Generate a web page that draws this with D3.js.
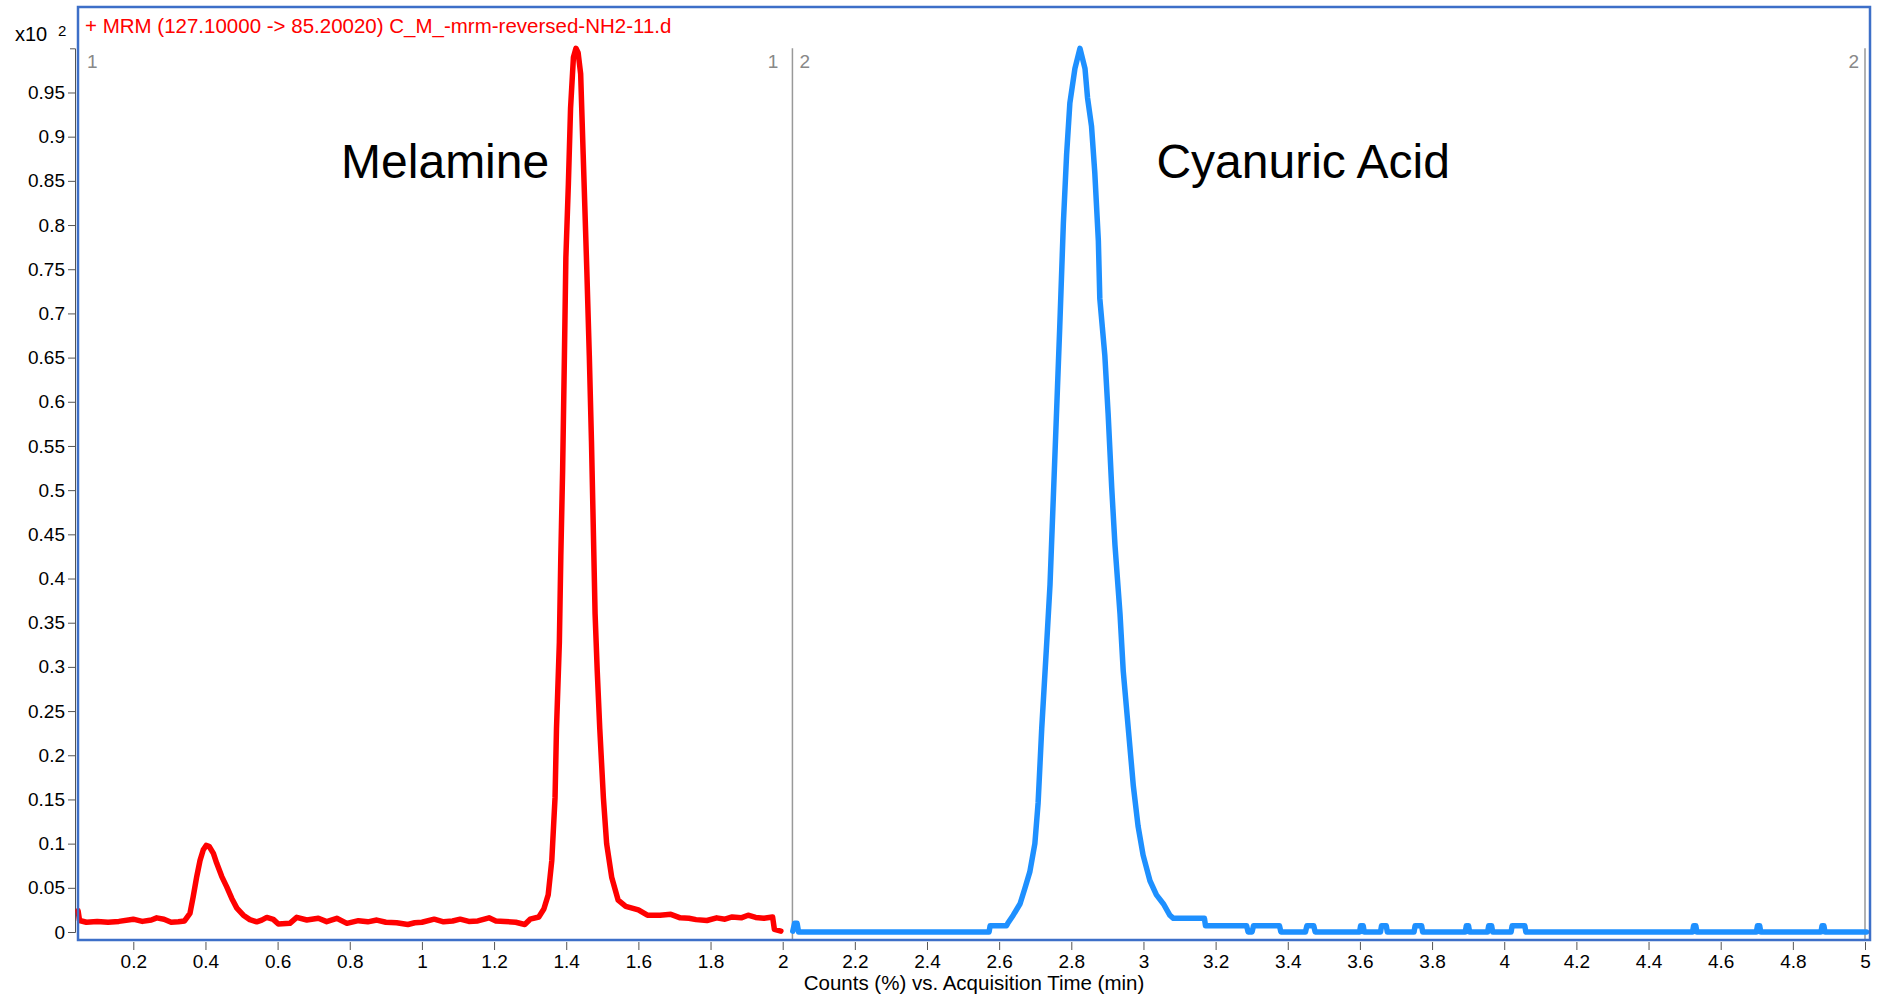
<!DOCTYPE html>
<html>
<head>
<meta charset="utf-8">
<script src="https://cdnjs.cloudflare.com/ajax/libs/d3/7.8.5/d3.min.js"></script>
<style>
  body { margin: 0; background: #fff; }
  svg { display: block; font-family: "Liberation Sans", Arial, sans-serif; }
  .axis text { fill: #000; font-size: 19px; }
  .axis path, .axis line { stroke: #555; }
</style>
</head>
<body>
<div id="chart"></div>
<script>
// Melamine trace (time min, counts x10^2)
var melamine = [
  [0.047,0.024],[0.051,0.013],[0.07,0.011],[0.1,0.012],[0.13,0.011],[0.16,0.012],[0.2,0.0145],
  [0.225,0.012],[0.25,0.0135],[0.265,0.016],[0.285,0.0145],[0.305,0.011],[0.325,0.0115],[0.342,0.0125],
  [0.357,0.021],[0.366,0.040],[0.376,0.063],[0.385,0.081],[0.394,0.093],[0.402,0.098],[0.41,0.097],
  [0.422,0.089],[0.431,0.078],[0.445,0.063],[0.459,0.051],[0.473,0.038],[0.487,0.027],[0.505,0.019],
  [0.523,0.014],[0.542,0.0115],[0.556,0.0135],[0.57,0.0165],[0.588,0.0143],[0.602,0.009],[0.634,0.0098],
  [0.653,0.0166],[0.681,0.0136],[0.713,0.0155],[0.736,0.0117],[0.764,0.0155],[0.792,0.0098],[0.824,0.0128],
  [0.85,0.0115],[0.875,0.0135],[0.9,0.011],[0.93,0.0105],[0.961,0.0085],[0.98,0.0105],[1.0,0.011],
  [1.034,0.0145],[1.06,0.0115],[1.085,0.0125],[1.106,0.0145],[1.13,0.012],[1.155,0.0125],[1.186,0.016],
  [1.205,0.0125],[1.23,0.012],[1.26,0.011],[1.285,0.0085],[1.3,0.0145],[1.324,0.017],[1.338,0.026],
  [1.35,0.042],[1.36,0.081],[1.369,0.152],[1.373,0.23],[1.381,0.328],[1.385,0.425],[1.39,0.522],
  [1.395,0.652],[1.399,0.763],[1.406,0.847],[1.412,0.932],[1.42,0.99],[1.427,1.0],[1.433,0.995],
  [1.44,0.971],[1.447,0.88],[1.457,0.75],[1.464,0.652],[1.47,0.555],[1.475,0.458],[1.48,0.36],
  [1.486,0.295],[1.493,0.23],[1.503,0.152],[1.512,0.1],[1.526,0.062],[1.544,0.036],[1.565,0.029],
  [1.6,0.025],[1.625,0.019],[1.66,0.019],[1.69,0.02],[1.716,0.016],[1.74,0.0155],[1.76,0.014],
  [1.79,0.013],[1.817,0.016],[1.84,0.0145],[1.86,0.017],[1.885,0.016],[1.904,0.019],[1.925,0.0165],
  [1.948,0.0155],[1.972,0.017],[1.977,0.003],[1.995,0.001]
];

// Cyanuric acid trace
var cyanuric = [
  [2.028,0.001],[2.033,0.0098],[2.04,0.0098],[2.044,0],[2.572,0],[2.575,0.007],[2.62,0.007],
  [2.624,0.0098],[2.639,0.019],[2.658,0.032],[2.671,0.049],[2.685,0.068],[2.699,0.1],[2.708,0.146],
  [2.718,0.23],[2.732,0.328],[2.741,0.393],[2.75,0.49],[2.759,0.587],[2.768,0.685],[2.778,0.802],
  [2.787,0.88],[2.796,0.938],[2.81,0.977],[2.824,1.0],[2.838,0.977],[2.845,0.944],[2.856,0.912],
  [2.865,0.86],[2.875,0.782],[2.879,0.717],[2.893,0.652],[2.902,0.587],[2.912,0.503],[2.921,0.438],
  [2.935,0.36],[2.944,0.295],[2.958,0.23],[2.972,0.165],[2.985,0.12],[2.999,0.087],[3.018,0.058],
  [3.036,0.042],[3.055,0.032],[3.073,0.019],[3.083,0.0155],[3.169,0.0155],[3.172,0.007],[3.286,0.007],
  [3.29,0],[3.301,0],[3.305,0.007],[3.377,0.007],[3.381,0],
  [3.449,0],[3.453,0.007],[3.472,0.007],[3.476,0],
  [3.599,0],[3.602,0.007],[3.609,0.007],[3.612,0],
  [3.657,0],[3.66,0.007],[3.673,0.007],[3.676,0],
  [3.75,0],[3.753,0.007],[3.771,0.007],[3.774,0],
  [3.892,0],[3.895,0.007],[3.901,0.007],[3.904,0],
  [3.954,0],[3.957,0.007],[3.965,0.007],[3.968,0],
  [4.019,0],[4.022,0.007],[4.057,0.007],[4.06,0],
  [4.522,0],[4.525,0.007],[4.531,0.007],[4.534,0],
  [4.699,0],[4.702,0.007],[4.708,0.007],[4.711,0],
  [4.878,0],[4.881,0.007],[4.886,0.007],[4.889,0],
  [5.004,0]
];

var xTicks = [0.2,0.4,0.6,0.8,1,1.2,1.4,1.6,1.8,2,2.2,2.4,2.6,2.8,3,3.2,3.4,3.6,3.8,4,4.2,4.4,4.6,4.8,5];
var yTicks = [0,0.05,0.1,0.15,0.2,0.25,0.3,0.35,0.4,0.45,0.5,0.55,0.6,0.65,0.7,0.75,0.8,0.85,0.9,0.95];

// compound names, placed at (time, counts)
var peakNames = ["Melamine", "Cyanuric Acid"];
var peakNamePos = [[0.776, 0.853], [3.036, 0.853]];

// segment boundaries (min)
var segments = [
  {id: "1", from: 0.047, to: 2.027},
  {id: "2", from: 2.027, to: 5.0}
];

var chartTitle = "+ MRM (127.10000 -> 85.20020) C_M_-mrm-reversed-NH2-11.d";
var xTitle = "Counts (%) vs. Acquisition Time (min)";

var width = 1883,
    height = 995,
    frame = {left: 78, right: 1870, top: 7, bottom: 940};

var svg = d3.select("#chart")
  .append("svg")
  .attr("width", width)
  .attr("height", height);

var x = d3.scaleLinear().domain([0.2, 5]).range([133.3, 1865]);
var y = d3.scaleLinear().domain([0, 1]).range([932, 48.3]);

// y axis
var yAxis = d3.axisLeft(y)
  .tickValues(yTicks)
  .tickSize(7)
  .tickSizeOuter(5)
  .tickPadding(3)
  .tickFormat(d => String(d));

svg.append("g")
  .attr("class", "y axis")
  .attr("transform", "translate(75,0)")
  .call(yAxis);

// x axis
var xAxis = d3.axisBottom(x)
  .tickValues(xTicks)
  .tickSize(8)
  .tickSizeOuter(0)
  .tickPadding(5)
  .tickFormat(d => String(d));

var gx = svg.append("g")
  .attr("class", "x axis")
  .attr("transform", `translate(0,${frame.bottom + 2})`)
  .call(xAxis);
gx.select(".domain").remove();

// segment dividers
segments.forEach(function(s, i) {
  var x0 = i == 0 ? frame.left + 2 : x(s.from);
  var x1 = x(s.to);
  if (i > 0) {
    svg.append("line")
      .attr("x1", x0).attr("x2", x0)
      .attr("y1", y(1)).attr("y2", frame.bottom)
      .style("stroke", "#999").style("stroke-width", 1.5);
  }
  if (i == segments.length - 1) {
    svg.append("line")
      .attr("x1", x1).attr("x2", x1)
      .attr("y1", y(1)).attr("y2", frame.bottom)
      .style("stroke", "#999").style("stroke-width", 1.5);
  }
  svg.append("text")
    .attr("x", x0 + 7).attr("y", 68)
    .text(s.id)
    .style("font-size", "19px").style("fill", "#888");
  svg.append("text")
    .attr("x", x1 - (i == 0 ? 14 : 6)).attr("y", 68)
    .attr("text-anchor", "end")
    .text(s.id)
    .style("font-size", "19px").style("fill", "#888");
});

var line = d3.line()
  .x(d => x(d[0]))
  .y(d => y(d[1]));

svg.append("path")
  .datum(melamine)
  .attr("d", line)
  .style("fill", "none")
  .style("stroke", "#ff0000")
  .style("stroke-width", 5.5)
  .style("stroke-linejoin", "round")
  .style("stroke-linecap", "round");

svg.append("path")
  .datum(cyanuric)
  .attr("d", line)
  .style("fill", "none")
  .style("stroke", "#1e90ff")
  .style("stroke-width", 5.5)
  .style("stroke-linejoin", "round")
  .style("stroke-linecap", "round");

// compound labels
svg.selectAll(".peak-name")
  .data(peakNames)
  .enter().append("text")
  .attr("class", "peak-name")
  .attr("x", (d, i) => x(peakNamePos[i][0]))
  .attr("y", (d, i) => y(peakNamePos[i][1]))
  .text(d => d)
  .style("font-size", "48px")
  .style("fill", "#000");

// plot frame
svg.append("rect")
  .attr("x", frame.left)
  .attr("y", frame.top)
  .attr("width", frame.right - frame.left)
  .attr("height", frame.bottom - frame.top)
  .style("fill", "none")
  .style("stroke", "#3d6fc8")
  .style("stroke-width", 2.5);

// title and scale factor
svg.append("text").attr("x", 85).attr("y", 33).text(chartTitle)
  .style("font-size", "20.5px").style("fill", "#ff0000");
svg.append("text").attr("x", 15).attr("y", 41).text("x10")
  .style("font-size", "20px");
svg.append("text").attr("x", 58).attr("y", 36).text("2")
  .style("font-size", "15px");

svg.append("text")
  .attr("x", 974).attr("y", 990)
  .attr("text-anchor", "middle")
  .text(xTitle)
  .style("font-size", "20.5px");
</script>
</body>
</html>
